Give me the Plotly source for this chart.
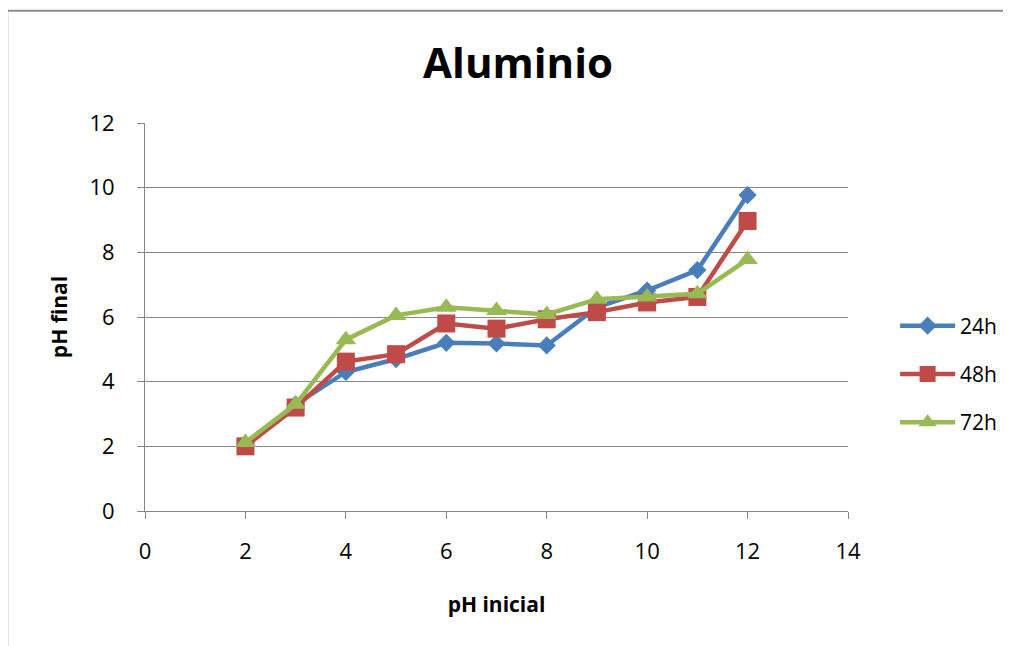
import plotly.graph_objects as go

ph_inicial = [2, 3, 4, 5, 6, 7, 8, 9, 10, 11, 12]
ph_24h = [2.07, 3.3, 4.3, 4.7, 5.2, 5.18, 5.12, 6.3, 6.82, 7.45, 9.77]
ph_48h = [2.0, 3.2, 4.62, 4.85, 5.8, 5.64, 5.93, 6.15, 6.45, 6.62, 8.97]
ph_72h = [2.12, 3.3, 5.3, 6.05, 6.3, 6.2, 6.08, 6.55, 6.62, 6.72, 7.78]
series_names = ["24h", "48h", "72h"]
colors = ["#4A7EBB", "#BE4B48", "#98B954"]
symbols = ["diamond", "square", "triangle-up"]
sizes = [14, 18, 18]

fig = go.Figure()
for i, (name, vals) in enumerate(zip(series_names, [ph_24h, ph_48h, ph_72h])):
    fig.add_trace(go.Scatter(
        x=ph_inicial, y=vals, name=name, mode="lines+markers",
        line=dict(color=colors[i], width=4.5),
        marker=dict(symbol=symbols[i], size=sizes[i], color=colors[i]),
        legendgroup=name,
    ))

font_family = "Open Sans, Noto Sans, sans-serif"
fig.update_layout(
    width=1011, height=646,
    margin=dict(l=137, r=171, t=115, b=143),
    paper_bgcolor="white", plot_bgcolor="white",
    font=dict(family=font_family, color="#000000"),
    title=dict(text="<b>Aluminio</b>", x=0.5045, xanchor="center", y=0.915, yanchor="middle",
               font=dict(size=42, family=font_family)),
    showlegend=True,
    legend=dict(x=1.067, xanchor="left", y=0.353, yanchor="middle",
                font=dict(size=21), tracegroupgap=18, itemwidth=55,
                bgcolor="rgba(0,0,0,0)"),
    xaxis=dict(range=[0, 14], dtick=2, tick0=0, showgrid=False, zeroline=False,
               showline=True, linecolor="#868686", linewidth=1,
               ticks="outside", ticklen=7, tickcolor="#868686",
               tickfont=dict(size=22), ticklabelstandoff=14, fixedrange=True,
               title=dict(text="<b>pH inicial</b>", font=dict(size=21), standoff=32)),
    yaxis=dict(range=[0, 12], dtick=2, tick0=0, showgrid=True, gridcolor="#868686", gridwidth=1,
               zeroline=False, showline=True, linecolor="#868686", linewidth=1,
               ticks="outside", ticklen=7, tickcolor="#868686",
               tickfont=dict(size=22), ticklabelstandoff=18, fixedrange=True,
               title=dict(text="<b>pH final</b>", font=dict(size=21), standoff=16)),
)

# outer chart frame
fig.add_shape(type="rect", xref="paper", yref="paper",
              x0=-0.196, x1=1.6, y0=-0.6, y1=1.289,
              line=dict(color="#8C8C8C", width=2), layer="below")

fig.write_html("out.html")
